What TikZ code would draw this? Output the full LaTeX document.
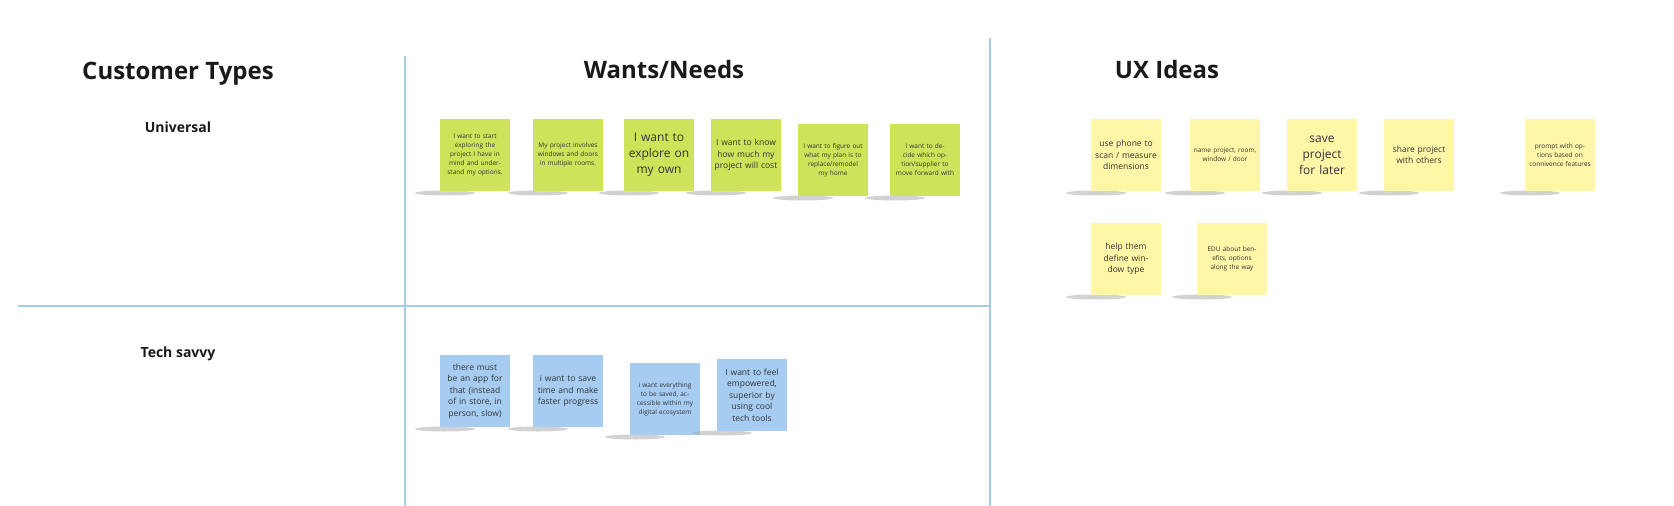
\documentclass[tikz,border=0pt]{standalone}
\usepackage{fontspec}
\setmainfont{Open Sans}
\definecolor{notegreen}{HTML}{CFE35A}
\definecolor{noteblue}{HTML}{A6CCF2}
\definecolor{noteyellow}{HTML}{FFF6A8}
\definecolor{gridline}{HTML}{A9CBE0}
\tikzset{
  note/.style={minimum width=70pt, minimum height=72pt, text width=64pt, align=center,
    inner sep=2pt, text=black!80},
  greennote/.style={note, fill=notegreen},
  bluenote/.style={note, fill=noteblue},
  yellownote/.style={note, fill=noteyellow},
  tiny/.style={font=\fontsize{6.5}{9}\selectfont},
  small/.style={font=\fontsize{8.5}{11.5}\selectfont},
  big/.style={font=\fontsize{12}{16}\selectfont},
  heading/.style={font=\fontsize{24}{28}\selectfont\bfseries, text=black!90},
  rowlabel/.style={font=\fontsize{14}{17}\selectfont\bfseries, text=black!90}
}
\newcommand{\stickynote}[5]{%
  \fill[black!35, opacity=0.5] (#2-30,#3+38) ellipse (30pt and 2.5pt);
  \node[#4] (#1) at (#2,#3) {#5};}
\begin{document}
\begin{tikzpicture}[x=1pt, y=-1pt]
  \useasboundingbox (0,0) rectangle (1674,506);

  % grid
  \draw[gridline, line width=1.5pt] (405,56) -- (405,506);
  \draw[gridline, line width=1.5pt] (990,38) -- (990,506);
  \draw[gridline, line width=1.5pt] (18,306) -- (990,306);

  % headings
  \node[heading] (ctypes) at (178,74) {Customer Types};
  \node[heading] (wants) at (664,69) {Wants/Needs};
  \node[heading] (ux) at (1167,69) {UX Ideas};
  \node[rowlabel] (univ) at (178,127) {Universal};
  \node[rowlabel] (tech) at (178,354) {Tech savvy};

  % universal wants
  \stickynote{w1}{475}{155}{greennote, tiny}{I want to start exploring the project I have in mind and understand my options.}
  \stickynote{w2}{568}{155}{greennote, tiny}{My project involves windows and doors in multiple rooms.}
  \stickynote{w3}{659}{155}{greennote, big}{I want to explore on my own}
  \stickynote{w4}{746}{155}{greennote, small}{I want to know how much my project will cost}
  \stickynote{w5}{833}{160}{greennote, tiny}{I want to figure out what my plan is to replace/remodel my home}
  \stickynote{w6}{925}{160}{greennote, tiny}{I want to decide which option/supplier to move forward with}

  % tech savvy wants
  \stickynote{t1}{475}{391}{bluenote, small}{there must be an app for that (instead of in store, in person, slow)}
  \stickynote{t2}{568}{391}{bluenote, small}{i want to save time and make faster progress}
  \stickynote{t3}{665}{399}{bluenote, tiny}{i want everything to be saved, accessible within my digital ecosystem}
  \stickynote{t4}{752}{395}{bluenote, small}{I want to feel empowered, superior by using cool tech tools}

  % ux ideas
  \stickynote{u1}{1126}{155}{yellownote, small}{use phone to scan / measure dimensions}
  \stickynote{u2}{1225}{155}{yellownote, tiny}{name project, room, window / door}
  \stickynote{u3}{1322}{155}{yellownote, big}{save project for later}
  \stickynote{u4}{1419}{155}{yellownote, small}{share project with others}
  \stickynote{u5}{1560}{155}{yellownote, tiny}{prompt with options based on connivence features}
  \stickynote{u6}{1126}{259}{yellownote, small}{help them define window type}
  \stickynote{u7}{1232}{259}{yellownote, tiny}{EDU about benefits, options along the way}
\end{tikzpicture}
\end{document}
